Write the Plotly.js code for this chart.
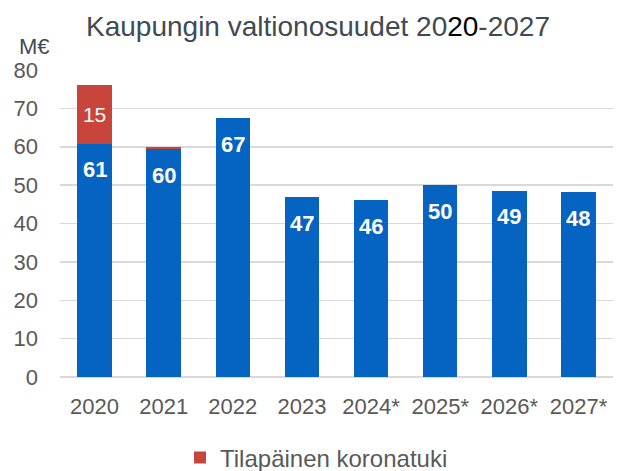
<!DOCTYPE html>
<html>
<head>
<meta charset="utf-8">
<script src="https://cdn.plot.ly/plotly-3.0.1.min.js"></script>
<style>html,body{margin:0;padding:0;background:#fff;}#chart{width:619px;height:471px;}</style>
</head>
<body>
<div id="chart"></div>
<script>
const years = ["2020", "2021", "2022", "2023", "2024*", "2025*", "2026*", "2027*"];
const baseValues = [60.8, 59.3, 67.4, 46.9, 46.1, 50.0, 48.5, 48.1];
const coronaValues = [15.2, 0.7, 0, 0, 0, 0, 0, 0];
const totalLabels = ["61", "60", "67", "47", "46", "50", "49", "48"];
const coronaLabels = ["15", "", "", "", "", "", "", ""];
const coronaName = "Tilapäinen koronatuki";

const blue = "#0563C1";
const red = "#C8453B";
const font = "Liberation Sans, Arial, sans-serif";

const traces = [
  {
    type: "bar", x: years, y: baseValues, marker: {color: blue},
    showlegend: false, hoverinfo: "skip"
  },
  {
    type: "bar", x: years, y: coronaValues, name: coronaName, marker: {color: red},
    text: coronaLabels, textposition: "inside", insidetextanchor: "middle",
    textfont: {color: "#ffffff", size: 21, family: font}, hoverinfo: "skip"
  }
];

// category axes place annotations by category index
const annotations = years.map((yr, i) => ({
  x: i, y: baseValues[i], xref: "x", yref: "y",
  text: "<b>" + totalLabels[i] + "</b>", showarrow: false,
  yanchor: "middle", yshift: -26,
  font: {color: "#ffffff", size: 22, family: font}
}));
annotations.push({
  x: -0.047, y: 1.078, xref: "paper", yref: "paper",
  text: "M€", showarrow: false, xanchor: "center", yanchor: "middle",
  font: {color: "#404a54", size: 22, family: font}
});

const layout = {
  width: 619, height: 471,
  margin: {l: 60, r: 6, t: 70, b: 94},
  paper_bgcolor: "#ffffff", plot_bgcolor: "#ffffff",
  barmode: "stack", bargap: 0.5,
  font: {family: font, color: "#595959"},
  title: {
    text: "Kaupungin valtionosuudet 20<span style='color:#000000'>20</span>-2027",
    x: 318 / 619, xref: "container", xanchor: "center",
    y: 1 - 26 / 471, yref: "container", yanchor: "middle",
    font: {size: 28, color: "#404a54", family: font}
  },
  xaxis: {
    type: "category", tickfont: {size: 22, color: "#595959"},
    showgrid: false, zeroline: false, showline: false, ticks: "", ticklabelstandoff: 14
  },
  yaxis: {
    range: [0, 80], dtick: 10, tickfont: {size: 22, color: "#595959"},
    gridcolor: "#d9d9d9", gridwidth: 1.5, zeroline: true, zerolinecolor: "#d9d9d9", zerolinewidth: 1.5,
    showline: false, ticks: "", ticklabelstandoff: 21
  },
  legend: {
    orientation: "h", x: 0.217, xanchor: "left",
    yref: "container", y: 1 - 458 / 471, yanchor: "middle",
    font: {size: 24, color: "#595959", family: font}
  },
  annotations: annotations
};

Plotly.newPlot("chart", traces, layout, {displayModeBar: false, staticPlot: true});
</script>
</body>
</html>
